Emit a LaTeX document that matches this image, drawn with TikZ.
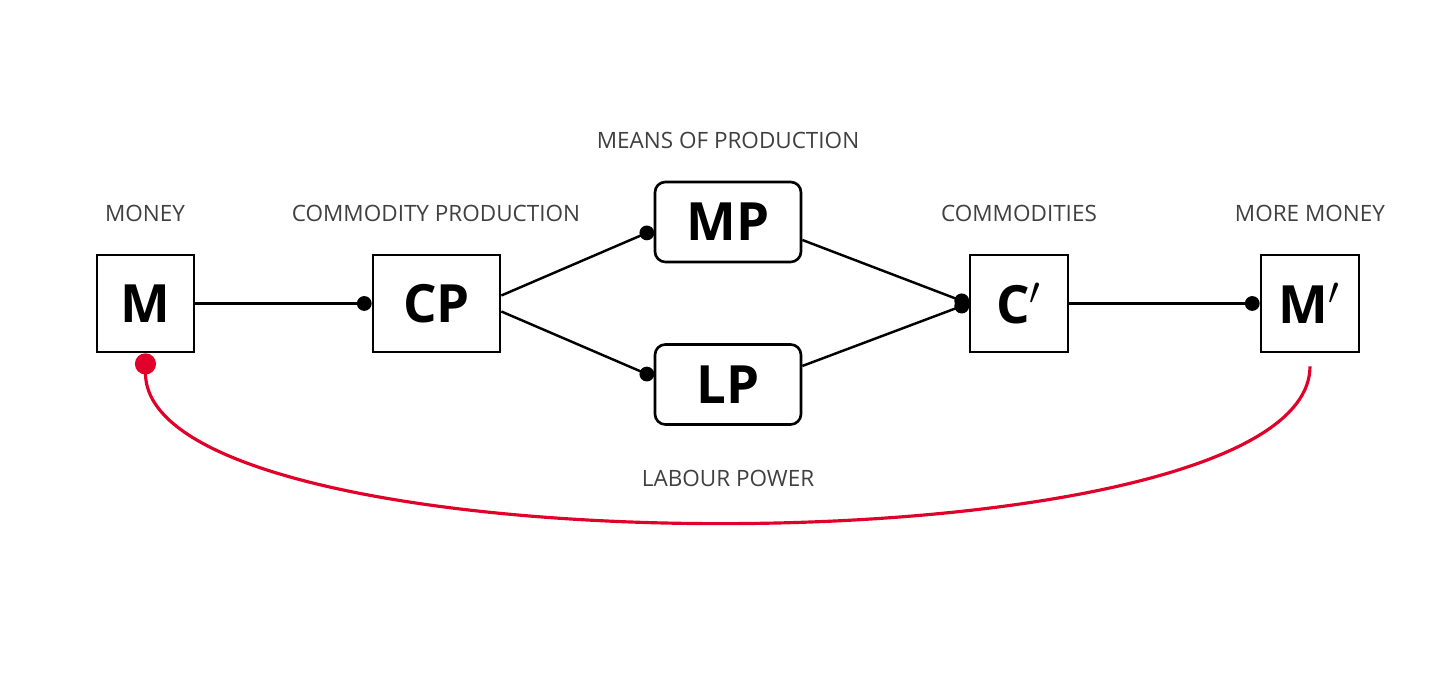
\documentclass[tikz,border=0pt]{standalone}
\usepackage{fontspec}
\setmainfont{Open Sans}
\usetikzlibrary{arrows.meta,positioning}

\definecolor{capred}{HTML}{E0002A}
\definecolor{labgray}{HTML}{404040}

\tikzset{
  box/.style={draw, line width=0.75pt, minimum height=0.97cm, inner sep=0pt,
    font=\fontsize{15}{15}\selectfont\bfseries},
  tag/.style={text=labgray, font=\fontsize{6.4}{7}\selectfont},
  link/.style={line width=0.7pt, -{Circle[length=4.2pt]}}
}

\begin{document}
\begin{tikzpicture}[x=0.01cm,y=-0.01cm]
    \useasboundingbox (0,0) rectangle (1456,680);
    % the boxes, from left to right
    \node[box, minimum width=0.97cm] (m) at (145.5,303.5) {M};
    \node[box, minimum width=1.27cm] (cp) at (436.5,303.5) {CP};
    \node[box, rounded corners=3pt, minimum width=1.46cm, minimum height=0.8cm] (mp) at (728,222) {MP};
    \node[box, rounded corners=3pt, minimum width=1.46cm, minimum height=0.8cm] (lp) at (728,384.5) {LP};
    \node[box, minimum width=0.98cm] (c) at (1019,303.5) {C$'$};
    \node[box, minimum width=0.98cm] (mm) at (1310,303.5) {M$'$};
    % labels above and below
    \node[tag] (tm) at (145,213) {MONEY};
    \node[tag] (tcp) at (436,213) {COMMODITY PRODUCTION};
    \node[tag] (tmp) at (728,140) {MEANS OF PRODUCTION};
    \node[tag] (tc) at (1019,213) {COMMODITIES};
    \node[tag] (tmm) at (1310,213) {MORE MONEY};
    \node[tag] (tlp) at (728,478) {LABOUR POWER};
    % connectors
    \draw[link] (m.east) -- (cp.west);
    \draw[link] (cp.east) ++(0,-8) coordinate (cpa) (cpa) -- (mp.west |- 0,230);
    \draw[link] (cp.east) ++(0,8) coordinate (cpb) (cpb) -- (lp.west |- 0,377);
    \draw[link] (mp.east |- 0,240) coordinate (mpa) (mpa) -- (c.west);
    \draw[link] (lp.east |- 0,366) coordinate (lpa) (lpa) -- (c.west);
    \draw[link] (c.east) -- (mm.west);
    % the red loop back to money
    \draw[capred, line width=0.9pt, {Circle[length=6pt]}-, shorten >=3.7pt]
      (m.south) .. controls (145,575) and (1310,575) .. (mm.south);
\end{tikzpicture}
\end{document}
